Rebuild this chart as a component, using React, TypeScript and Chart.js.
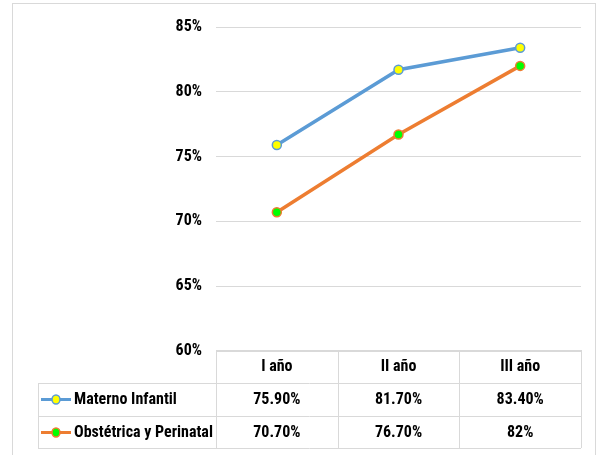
import React, { useEffect, useRef } from "react";
import { Chart, registerables } from "chart.js";

Chart.register(...registerables);

const categories = ["I año", "II año", "III año"];
const seriesNames = ["Materno Infantil", "Obstétrica y Perinatal"];
const maternoInfantil = [0.759, 0.817, 0.834];
const obstetrica = [0.707, 0.767, 0.82];
const maternoLabels = ["75.90%", "81.70%", "83.40%"];
const obstetricaLabels = ["70.70%", "76.70%", "82%"];
const lineColors = ["#5B9BD5", "#ED7D31"];
const markerColors = ["#FFFF00", "#00FF00"];

const FONT = "'Liberation Sans Narrow', 'Arial Narrow', 'Roboto Condensed', sans-serif";

export default function App() {
  const ref = useRef<HTMLCanvasElement | null>(null);

  useEffect(() => {
    document.body.style.margin = "0";
    const canvas = ref.current!;
    const tablePlugin = {
      id: "dataTable",
      afterDraw(chart: any) {
        const ctx = chart.ctx as CanvasRenderingContext2D;
        const area = chart.chartArea;
        const xs = chart.scales.x;
        const n = categories.length;
        const colW = (area.right - area.left) / n;
        const top = Math.floor(area.bottom) - 1;
        const rowH = 33;
        const tableLeft = 38;
        ctx.save();
        ctx.strokeStyle = "#d9d9d9";
        ctx.lineWidth = 1;
        // outer border
        ctx.strokeRect(12.5, 3.5, 583, 470);
        const hl = (x1: number, x2: number, y: number) => {
          ctx.beginPath();
          ctx.moveTo(x1, Math.round(y) + 0.5);
          ctx.lineTo(x2, Math.round(y) + 0.5);
          ctx.stroke();
        };
        const vl = (x: number, y1: number, y2: number) => {
          ctx.beginPath();
          ctx.moveTo(Math.round(x) + 0.5, y1);
          ctx.lineTo(Math.round(x) + 0.5, y2);
          ctx.stroke();
        };
        hl(area.left, area.right, top);
        for (let r = 1; r <= 3; r++) hl(tableLeft, area.right, top + rowH * r - (r === 3 ? 1 : 0));
        const bottom = top + rowH * 3 - 1;
        vl(tableLeft, top + rowH, bottom);
        for (let c = 0; c <= n; c++) vl(area.left + colW * c, top, bottom);

        ctx.fillStyle = "#000";
        ctx.font = `bold 16px ${FONT}`;
        ctx.textAlign = "center";
        ctx.textBaseline = "middle";
        categories.forEach((cat, i) => {
          const cx = xs.getPixelForValue(i);
          ctx.fillText(cat, cx, top + rowH / 2);
          ctx.fillText(maternoLabels[i], cx, top + rowH * 1.5);
          ctx.fillText(obstetricaLabels[i], cx, top + rowH * 2.5);
        });
        // legend keys
        seriesNames.forEach((name, s) => {
          const cy = top + rowH * (1.5 + s);
          ctx.strokeStyle = lineColors[s];
          ctx.lineWidth = 3;
          ctx.beginPath();
          ctx.moveTo(41, cy);
          ctx.lineTo(71, cy);
          ctx.stroke();
          ctx.fillStyle = markerColors[s];
          ctx.lineWidth = 1.5;
          ctx.beginPath();
          ctx.ellipse(56, cy, 4, 4.5, 0, 0, Math.PI * 2);
          ctx.fill();
          ctx.stroke();
          ctx.fillStyle = "#000";
          ctx.textAlign = "left";
          ctx.fillText(name, 74, cy);
        });
        ctx.restore();
      },
    };

    const chart = new Chart(canvas, {
      type: "line",
      data: {
        labels: categories,
        datasets: [
          {
            label: seriesNames[0],
            data: maternoInfantil,
            borderColor: lineColors[0],
            backgroundColor: markerColors[0],
            pointBackgroundColor: markerColors[0],
            pointBorderColor: lineColors[0],
            borderWidth: 3.5,
            pointRadius: 4.5,
            pointBorderWidth: 1.5,
          },
          {
            label: seriesNames[1],
            data: obstetrica,
            borderColor: lineColors[1],
            backgroundColor: markerColors[1],
            pointBackgroundColor: markerColors[1],
            pointBorderColor: lineColors[1],
            borderWidth: 3.5,
            pointRadius: 4.5,
            pointBorderWidth: 1.5,
          },
        ],
      },
      options: {
        animation: false,
        responsive: false,
        layout: { padding: { left: 0, top: 27, right: 16, bottom: 104 } },
        plugins: { legend: { display: false }, tooltip: { enabled: false } },
        scales: {
          x: { display: false, offset: true },
          y: {
            min: 0.6,
            max: 0.85,
            afterFit: (s: any) => {
              s.width = 216;
            },
            border: { display: false },
            grid: { color: "#d9d9d9", drawTicks: false },
            ticks: {
              stepSize: 0.05,
              padding: 14,
              color: "#000",
              font: { family: FONT, size: 16, weight: "bold" },
              callback: (v: any) => `${Math.round(Number(v) * 100)}%`,
            },
          },
        },
      },
      plugins: [tablePlugin],
    });
    return () => chart.destroy();
  }, []);

  return (
    <div style={{ width: 597, height: 455, background: "#fff" }}>
      <canvas ref={ref} width={597} height={455} />
    </div>
  );
}
